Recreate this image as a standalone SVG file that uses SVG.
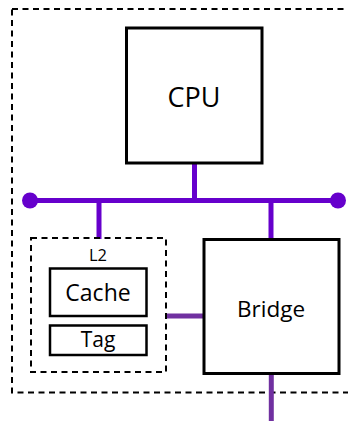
<svg xmlns="http://www.w3.org/2000/svg" width="348" height="421" viewBox="0 0 348 421">
<style>
.box{fill:#fff;stroke:#000;stroke-width:3}
.small{fill:#fff;stroke:#000;stroke-width:2.5}
.dash{fill:none;stroke:#000;stroke-width:2;stroke-dasharray:6 4.5}
.bus{stroke:#6600cc;stroke-width:5;fill:none}
.link{stroke:#7030a0;stroke-width:5;fill:none}
text{font-family:"Open Sans","Noto Sans",sans-serif;fill:#000;text-anchor:middle}
</style>
<rect width="348" height="421" fill="#fff"/>
<g id="system">
<rect class="dash" x="12" y="9" width="360" height="383.5"/>
</g>
<g id="connectors">
<line class="bus" x1="30" y1="200.5" x2="338" y2="200.5"/>
<circle cx="30" cy="200.5" r="8" fill="#6600cc"/>
<circle cx="338" cy="200.5" r="8" fill="#6600cc"/>
<line class="bus" x1="194.5" y1="163" x2="194.5" y2="200.5"/>
<line class="bus" x1="99" y1="200.5" x2="99" y2="239"/>
<line class="bus" x1="271" y1="200.5" x2="271" y2="239"/>
<line class="link" x1="166" y1="316" x2="203" y2="316"/>
<line class="link" x1="271.3" y1="374" x2="271.3" y2="421"/>
</g>
<g id="cpu">
<rect class="box" x="126.5" y="28" width="135.5" height="135"/>
<text x="194" y="107" font-size="27">CPU</text>
</g>
<g id="l2">
<rect class="dash" x="31" y="238" width="135" height="134"/>
<text x="98" y="261" font-size="16.5">L2</text>
</g>
<g id="cache">
<rect class="small" x="50" y="268.5" width="96.5" height="47.5"/>
<text x="98" y="301" font-size="23">Cache</text>
</g>
<g id="tag">
<rect class="small" x="50" y="325.5" width="96.5" height="29.5"/>
<text x="98" y="347" font-size="21">Tag</text>
</g>
<g id="bridge">
<rect class="box" x="204" y="239.5" width="135" height="134"/>
<text x="271" y="317" font-size="22.5">Bridge</text>
</g>
</svg>
